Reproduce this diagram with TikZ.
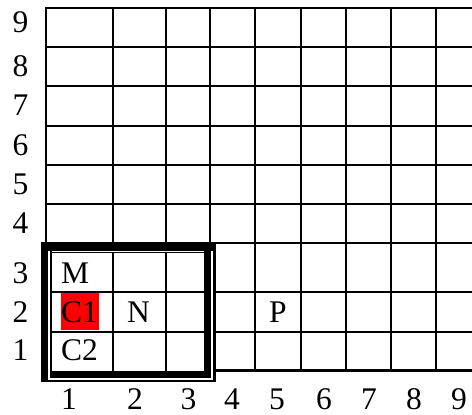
\documentclass[tikz,border=0pt]{standalone}
\usepackage{fontspec}
\setmainfont{Liberation Serif}
\begin{document}
\begin{tikzpicture}[x=1pt,y=-1pt,
  gridline/.style={line width=2.2pt,black},
  lbl/.style={inner sep=0pt,anchor=base,font=\fontsize{31.5}{33}\selectfont},
  celltxt/.style={inner sep=0pt,anchor=base west,font=\fontsize{31.5}{33}\selectfont}]
\useasboundingbox (0,0) rectangle (472,415);
% outer grid horizontal lines
\foreach \y in {7.7,46.7,86,125.7,165,204.3,243}
  \draw[gridline] (44.9,\y) -- (472,\y);
\foreach \y in {292.3,331.7,370.4}
  \draw[gridline] (215,\y) -- (472,\y);
% outer grid vertical lines
\foreach \x in {46,113,165.7,210}
  \draw[gridline] (\x,6.6) -- (\x,242);
\foreach \x in {255,300.7,346,391,436}
  \draw[gridline] (\x,6.6) -- (\x,371.5);
% box: white background
\fill[white] (41,241.7) rectangle (215.5,382.3);
% red cell background
\fill[red] (61,293.3) rectangle (99,329.6);
% inner grid lines
\draw[gridline] (113,252) -- (113,371);
\draw[gridline] (165.7,252) -- (165.7,371);
\draw[gridline] (51,292.3) -- (205,292.3);
\draw[gridline] (51,331.7) -- (205,331.7);
% thick frame (ridge look)
\fill[black] (41,241.7) rectangle (48.3,382.3);   % left thick
\fill[black] (41,241.7) rectangle (215.5,250.5);  % top thick
\fill[black] (204,250.5) rectangle (210.7,378.3); % right thick (inner)
\fill[black] (50,370.7) rectangle (210.7,378.3);  % bottom thick (inner)
\fill[black] (50,250.5) rectangle (51.8,370.7);   % left thin (inner)
\fill[black] (50,251.6) rectangle (204,253.4);    % top thin (inner)
\fill[black] (213.4,241.7) rectangle (215.5,382.3); % right thin (outer)
\fill[black] (41,379.9) rectangle (215.5,382.3);    % bottom thin (outer)
% row labels
\node[lbl] (r9) at (20.5,32.5) {9};
\node[lbl] (r8) at (20.5,76) {8};
\node[lbl] (r7) at (20.5,115) {7};
\node[lbl] (r6) at (20.5,155.5) {6};
\node[lbl] (r5) at (20.5,194.5) {5};
\node[lbl] (r4) at (20.5,233.5) {4};
\node[lbl] (r3) at (20.5,283) {3};
\node[lbl] (r2) at (20.5,322) {2};
\node[lbl] (r1) at (20.5,360.5) {1};
% column labels
\node[lbl] (c1) at (69,409) {1};
\node[lbl] (c2) at (135,409) {2};
\node[lbl] (c3) at (188.5,409) {3};
\node[lbl] (c4) at (232,409) {4};
\node[lbl] (c5) at (277,409) {5};
\node[lbl] (c6) at (324,409) {6};
\node[lbl] (c7) at (369,409) {7};
\node[lbl] (c8) at (414,409) {8};
\node[lbl] (c9) at (459,409) {9};
% cell texts
\node[celltxt] (M) at (61,283) {M};
\node[celltxt] (C1) at (61,322) {C1};
\node[celltxt] (C2) at (61,360.5) {C2};
\node[lbl] (N) at (138.5,322) {N};
\node[lbl] (P) at (278,322) {P};
\end{tikzpicture}
\end{document}
